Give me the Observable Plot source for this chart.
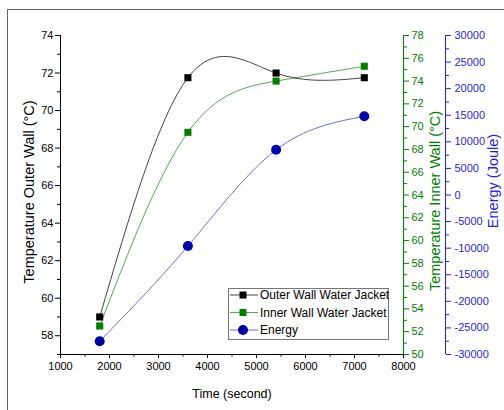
<!DOCTYPE html>
<html>
<head>
<meta charset="utf-8">
<script src="https://cdn.jsdelivr.net/npm/d3@7"></script>
<script src="https://cdn.jsdelivr.net/npm/@observablehq/plot@0.6"></script>
<style>
  html, body { margin: 0; padding: 0; background: #fff; }
  #wrap { position: relative; width: 504px; height: 410px; overflow: hidden; font-family: "Liberation Sans", Arial, sans-serif; }
  #frame { position: absolute; left: 7px; top: 9px; width: 520px; height: 420px; border-top: 1.5px solid #666; border-left: 1.5px solid #666; pointer-events: none; }
  #legend { position: absolute; left: 0; top: 0; pointer-events: none; }
</style>
</head>
<body>
<div id="wrap"></div>
<script>
// ---- data ----
const times = [1800, 3600, 5400, 7200];
const outerWall = [59.0, 71.75, 72.0, 71.75];      // °C, left axis
const innerWall = [52.5, 69.5, 74.0, 75.3];        // °C, green right axis
const energy = [-27500, -9600, 8500, 14800];       // Joule, blue right axis
const seriesNames = ["Outer Wall Water Jacket", "Inner Wall Water Jacket", "Energy"];

// ---- tick labels ----
const xTicks = [1000, 2000, 3000, 4000, 5000, 6000, 7000, 8000];
const xMinor = [1500, 2500, 3500, 4500, 5500, 6500, 7500];
const leftTicks = [58, 60, 62, 64, 66, 68, 70, 72, 74];
const leftMinor = [57, 59, 61, 63, 65, 67, 69, 71, 73];
const innerTicks = [50, 52, 54, 56, 58, 60, 62, 64, 66, 68, 70, 72, 74, 76, 78];
const innerMinor = [51, 53, 55, 57, 59, 61, 63, 65, 67, 69, 71, 73, 75, 77];
const energyTicks = [-30000, -25000, -20000, -15000, -10000, -5000, 0, 5000, 10000, 15000, 20000, 25000, 30000];
const energyMinor = [-27500, -22500, -17500, -12500, -7500, -2500, 2500, 7500, 12500, 17500, 22500, 27500];

const LEFT_DOMAIN = [57, 74];
const INNER_DOMAIN = [50, 78];
const ENERGY_DOMAIN = [-30000, 30000];

const GREEN = "#008000";
const BLUE = "#1f1fe8";
const FONT = "'Liberation Sans', Arial, sans-serif";

// map secondary-axis values onto the left (primary) scale
const lin = (d0) => v => LEFT_DOMAIN[0] + (v - d0[0]) * (LEFT_DOMAIN[1] - LEFT_DOMAIN[0]) / (d0[1] - d0[0]);
const inv = (d0) => y => d0[0] + (y - LEFT_DOMAIN[0]) * (d0[1] - d0[0]) / (LEFT_DOMAIN[1] - LEFT_DOMAIN[0]);
const toInner = lin(INNER_DOMAIN), fromInner = inv(INNER_DOMAIN);
const toEnergy = lin(ENERGY_DOMAIN), fromEnergy = inv(ENERGY_DOMAIN);

const outerData = times.map((t, i) => ({t, v: outerWall[i]}));
const innerData = times.map((t, i) => ({t, v: toInner(innerWall[i])}));
const energyData = times.map((t, i) => ({t, v: toEnergy(energy[i])}));

const blank = () => "";

const chart = Plot.plot({
  width: 504,
  height: 410,
  marginLeft: 60,
  marginRight: 101,
  marginTop: 35,
  marginBottom: 56,
  x: {domain: [1000, 8000]},
  y: {domain: LEFT_DOMAIN},
  style: {fontFamily: FONT, fontSize: "11px", background: "white", color: "black", overflow: "visible"},
  marks: [
    // spines
    Plot.frame({anchor: "left", stroke: "black"}),
    Plot.frame({anchor: "bottom", stroke: "black"}),
    Plot.frame({anchor: "right", stroke: GREEN}),
    Plot.ruleX([8000], {dx: 42, stroke: BLUE}),

    // bottom axis
    Plot.axisX(xTicks, {anchor: "bottom", tickSize: 4, tickPadding: 4, tickFormat: d => String(d), label: null, fontSize: 11}),
    Plot.axisX(xMinor, {anchor: "bottom", tickSize: 2.5, tickFormat: blank, label: null}),

    // left axis
    Plot.axisY(leftTicks, {anchor: "left", tickSize: 5, tickPadding: 2, tickFormat: d => String(d), label: null, fontSize: 11}),
    Plot.axisY(leftMinor, {anchor: "left", tickSize: 3, tickFormat: blank, label: null}),

    // green right axis
    Plot.axisY(innerTicks.map(toInner), {anchor: "right", tickSize: 5, tickPadding: 3, color: GREEN,
      tickFormat: y => String(Math.round(fromInner(y))), label: null, fontSize: 11}),
    Plot.axisY(innerMinor.map(toInner), {anchor: "right", tickSize: 3, color: GREEN, tickFormat: blank, label: null}),

    // blue right axis (offset)
    Plot.axisY(energyTicks.map(toEnergy), {anchor: "right", dx: 42, tickSize: 5, tickPadding: 4, color: BLUE,
      tickFormat: y => String(Math.round(fromEnergy(y) / 100) * 100), label: null, fontSize: 11}),
    Plot.axisY(energyMinor.map(toEnergy), {anchor: "right", dx: 42, tickSize: 3, color: BLUE, tickFormat: blank, label: null}),

    // axis titles
    Plot.text(["Time (second)"], {frameAnchor: "bottom", dy: 39, textAnchor: "middle", lineAnchor: "middle", fontSize: 12.5, fill: "black"}),
    Plot.text(["Temperature Outer Wall (°C)"], {frameAnchor: "left", dx: -31, dy: -3, rotate: -90, textAnchor: "middle", lineAnchor: "middle", fontSize: 14.5, fill: "black"}),
    Plot.text(["Temperature Inner Wall (°C)"], {frameAnchor: "right", dx: 32, dy: 6, rotate: -90, textAnchor: "middle", lineAnchor: "middle", fontSize: 14.5, fill: GREEN}),
    Plot.text(["Energy (Joule)"], {frameAnchor: "right", dx: 90, dy: -14, rotate: -90, textAnchor: "middle", lineAnchor: "middle", fontSize: 14.5, fill: BLUE}),

    // series
    Plot.line(energyData, {x: "t", y: "v", curve: "natural", stroke: "#6e6ed8", strokeWidth: 1}),
    Plot.line(innerData, {x: "t", y: "v", curve: "natural", stroke: "#55aa55", strokeWidth: 1}),
    Plot.line(outerData, {x: "t", y: "v", curve: "natural", stroke: "#444", strokeWidth: 1}),
    Plot.dot(energyData, {x: "t", y: "v", r: 5, fill: "#0000a8", stroke: "none"}),
    Plot.dot(innerData, {x: "t", y: "v", symbol: "square", r: 4, fill: GREEN, stroke: "none"}),
    Plot.dot(outerData, {x: "t", y: "v", symbol: "square", r: 4, fill: "black", stroke: "none"})
  ]
});

const wrap = document.getElementById("wrap");
wrap.appendChild(chart);

// ---- legend ----
const legendItems = [
  {name: seriesNames[0], line: "#444", fill: "black", shape: "square"},
  {name: seriesNames[1], line: "#55aa55", fill: GREEN, shape: "square"},
  {name: seriesNames[2], line: "#6e6ed8", fill: "#0000a8", shape: "circle"}
];
const lg = d3.select(wrap).append("svg").attr("id", "legend").attr("width", 504).attr("height", 410);
const box = lg.append("g").attr("transform", "translate(228,288)");
box.append("rect").attr("x", 0.5).attr("y", 0.5).attr("width", 160).attr("height", 51)
  .attr("fill", "white").attr("stroke", "#777").attr("stroke-width", 1);
legendItems.forEach((d, i) => {
  const g = box.append("g").attr("transform", `translate(0,${7 + i * 17.5})`);
  g.append("line").attr("x1", 2).attr("x2", 30).attr("y1", 0).attr("y2", 0).attr("stroke", d.line).attr("stroke-width", 1);
  if (d.shape === "square") g.append("rect").attr("x", 15 - 3.5).attr("y", -3.5).attr("width", 7).attr("height", 7).attr("fill", d.fill);
  else g.append("circle").attr("cx", 15).attr("cy", 0).attr("r", 5).attr("fill", d.fill);
  g.append("text").attr("x", 32).attr("y", 0).attr("dy", "0.35em").attr("font-family", FONT).attr("font-size", 12).attr("fill", "black").text(d.name);
});

const frame = document.createElement("div");
frame.id = "frame";
wrap.appendChild(frame);
</script>
</body>
</html>
